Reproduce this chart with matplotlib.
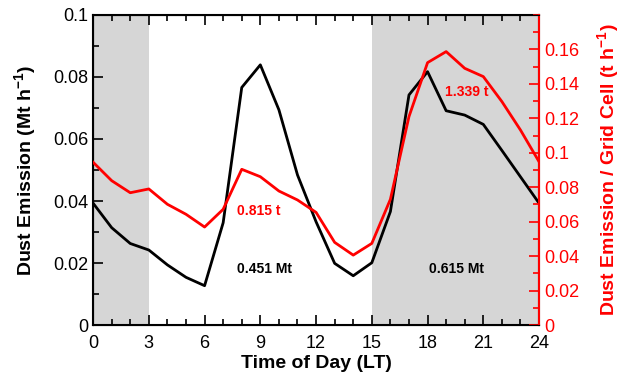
import matplotlib
matplotlib.use("Agg")
import matplotlib.pyplot as plt
import numpy as np
from matplotlib.ticker import MultipleLocator

plt.rcParams['font.family'] = ['Liberation Sans', 'DejaVu Sans']
plt.rcParams['mathtext.fontset'] = 'custom'
plt.rcParams['mathtext.rm'] = 'Liberation Sans'
plt.rcParams['mathtext.bf'] = 'Liberation Sans:bold'

hours = np.arange(0, 25)
# total dust emission (Mt h-1), left axis
total = [0.0393, 0.0314, 0.0263, 0.0242, 0.0194, 0.0154, 0.0127, 0.0330,
         0.0766, 0.0839, 0.0694, 0.0484, 0.0333, 0.0199, 0.0159, 0.0201,
         0.0366, 0.0742, 0.0817, 0.0691, 0.0677, 0.0647, 0.0563, 0.0478, 0.0393]
# per grid cell (t h-1), right axis
per_cell = [0.0945, 0.0838, 0.0768, 0.0790, 0.0701, 0.0643, 0.0569, 0.0672,
            0.0904, 0.0861, 0.0778, 0.0726, 0.0654, 0.0480, 0.0406, 0.0474,
            0.0730, 0.1210, 0.1523, 0.1587, 0.1490, 0.1442, 0.1297, 0.1132, 0.0948]
night = [(0, 3), (15, 24)]

fig = plt.figure(figsize=(6.29, 3.82), dpi=100)
ax = fig.add_axes([0.148, 0.149, 0.709, 0.812])
for a, b in night:
    ax.axvspan(a, b, color='#d6d6d6', lw=0, zorder=0)

ax.plot(hours, total, color='black', lw=2, zorder=3)
ax.set_xlim(0, 24)
ax.set_ylim(0, 0.1)
ax.xaxis.set_major_locator(MultipleLocator(3))
ax.xaxis.set_minor_locator(MultipleLocator(1))
ax.yaxis.set_minor_locator(MultipleLocator(0.01))
ax.set_yticks([0, 0.02, 0.04, 0.06, 0.08, 0.1])
ax.set_yticklabels(['0', '0.02', '0.04', '0.06', '0.08', '0.1'])
ax.tick_params(which='both', direction='in', top=True, labelsize=13, width=1.2)
ax.tick_params(which='major', length=7)
ax.tick_params(which='minor', length=4)
ax.tick_params(axis='x', pad=7)
ax.tick_params(axis='y', right=False, which='both')
for s in ax.spines.values():
    s.set_linewidth(1.5)
ax.set_xlabel('Time of Day (LT)', fontsize=14, fontweight='bold', labelpad=2)
ax.set_ylabel('Dust Emission (Mt h$^{\\mathbf{-1}}$)', fontsize=14, fontweight='bold',
              labelpad=10)

ax2 = ax.twinx()
ax2.plot(hours, per_cell, color='red', lw=2, zorder=3)
ax2.set_ylim(0, 0.18)
ax2.yaxis.set_minor_locator(MultipleLocator(0.01))
rt = [0, 0.02, 0.04, 0.06, 0.08, 0.1, 0.12, 0.14, 0.16]
ax2.set_yticks(rt)
ax2.set_yticklabels(['0', '0.02', '0.04', '0.06', '0.08', '0.1', '0.12', '0.14', '0.16'])
ax2.tick_params(which='both', direction='in', colors='red', labelsize=13, width=1.2)
ax2.tick_params(which='major', length=7)
ax2.tick_params(which='minor', length=4)
ax2.spines['right'].set_color('red')
ax2.spines['right'].set_linewidth(1.5)
ax2.set_ylabel('Dust Emission / Grid Cell (t h$^{\\mathbf{-1}}$)', color='red',
               fontsize=14, fontweight='bold', labelpad=12)

ax.text(8.9, 0.0369, '0.815 t', color='red', fontsize=10, fontweight='bold',
        ha='center', va='center', zorder=5)
ax.text(9.25, 0.018, '0.451 Mt', color='black', fontsize=10, fontweight='bold',
        ha='center', va='center')
ax.text(19.57, 0.018, '0.615 Mt', color='black', fontsize=10, fontweight='bold',
        ha='center', va='center')
ax.text(20.1, 0.0753, '1.339 t', color='red', fontsize=10, fontweight='bold',
        ha='center', va='center', zorder=5)

fig.savefig('out.png', dpi=100)
